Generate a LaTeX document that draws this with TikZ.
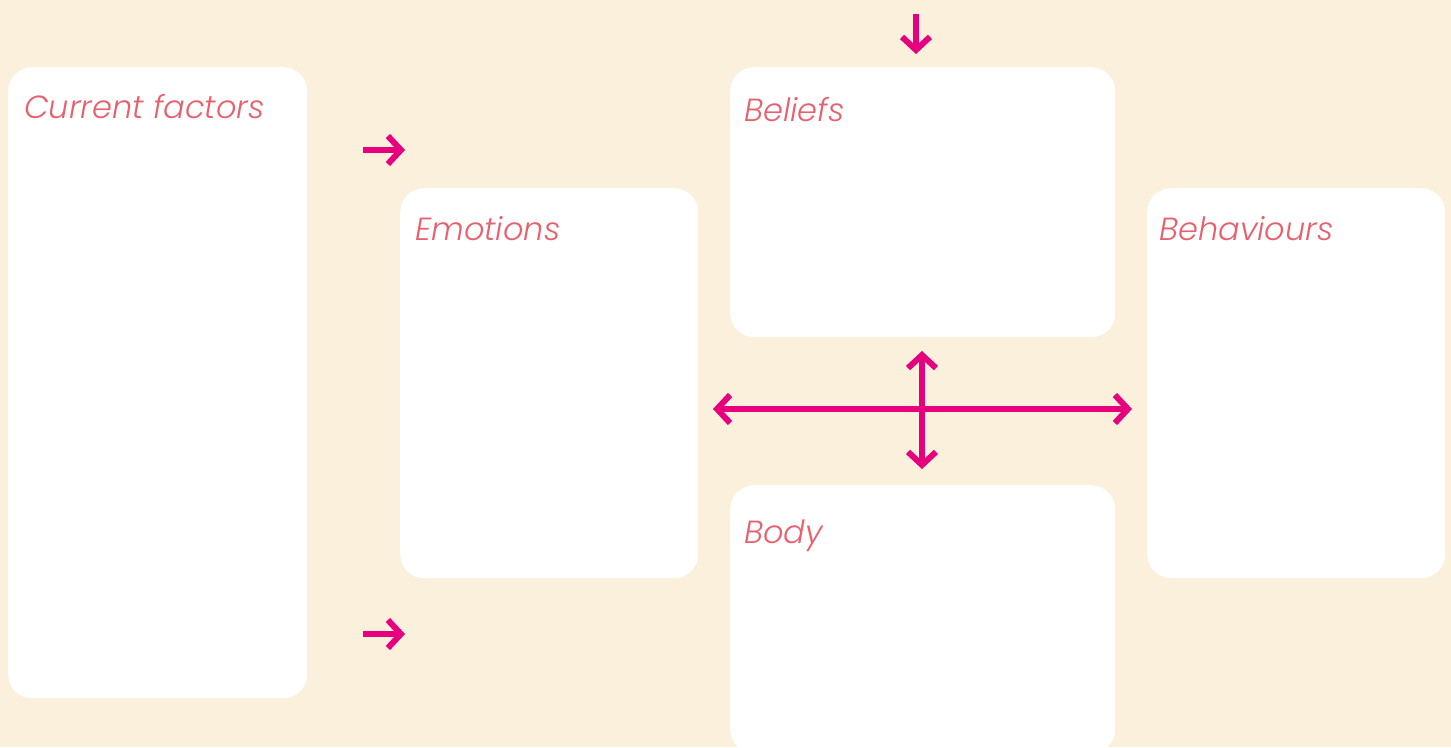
\documentclass[tikz,border=0pt]{standalone}
\usepackage{fontspec}
\setmainfont{Poppins}
\newfontfamily\titlefont{Poppins Light Italic}
\usetikzlibrary{arrows.meta}
\definecolor{paper}{HTML}{FAF0DC}
\definecolor{heading}{HTML}{E8606E}
\definecolor{flow}{HTML}{E6007E}
\tikzset{
  card/.style={fill=white, draw=none, rounded corners=24pt, anchor=north west, inner sep=0pt},
  cardtitle/.style={anchor=base west, text=heading, font=\titlefont\fontsize{32}{36}\selectfont, inner sep=0pt},
  flowarrow/.style={draw=flow, line width=6pt, -{Straight Barb[length=13pt, width=28pt]}},
  twoway/.style={draw=flow, line width=6pt, {Straight Barb[length=13pt, width=28pt]}-{Straight Barb[length=13pt, width=28pt]}}
}
\begin{document}
\begin{tikzpicture}[x=1pt, y=-1pt]
  \useasboundingbox[fill=paper] (0,0) rectangle (1451,747);
  % cards
  \node[card, minimum width=299pt, minimum height=631pt] (current) at (8,67) {};
  \node[card, minimum width=298pt, minimum height=390pt] (emotions) at (400,188) {};
  \node[card, minimum width=385pt, minimum height=270pt] (beliefs) at (730,67) {};
  \node[card, minimum width=298pt, minimum height=390pt] (behaviours) at (1147,188) {};
  \begin{scope}
    \clip (0,0) rectangle (1451,747);
    \node[card, minimum width=385pt, minimum height=268pt] (body) at (730,485) {};
  \end{scope}
  % titles
  \node[cardtitle] (tcurrent) at ([shift={(16pt,-51pt)}]current.north west) {Current factors};
  \node[cardtitle] (temotions) at ([shift={(15pt,-52pt)}]emotions.north west) {Emotions};
  \node[cardtitle] (tbeliefs) at ([shift={(14pt,-54pt)}]beliefs.north west) {Beliefs};
  \node[cardtitle] (tbehaviours) at ([shift={(12pt,-52pt)}]behaviours.north west) {Behaviours};
  \node[cardtitle] (tbody) at ([shift={(14pt,-58pt)}]body.north west) {Body};
  % arrow end points
  \coordinate (topA) at (916,14);
  \coordinate (topB) at (916,54);
  \coordinate (upA) at (363,150);
  \coordinate (upB) at (405,150);
  \coordinate (lowA) at (363,634);
  \coordinate (lowB) at (405,634);
  \coordinate (hL) at (713,409);
  \coordinate (hR) at (1132,409);
  \coordinate (vT) at (922,351);
  \coordinate (vB) at (922,469);
  % arrows
  \draw[flowarrow] (topA) -- (topB);
  \draw[flowarrow] (upA) -- (upB);
  \draw[flowarrow] (lowA) -- (lowB);
  \draw[twoway] (hL) -- (hR);
  \draw[twoway] (vT) -- (vB);
\end{tikzpicture}
\end{document}
